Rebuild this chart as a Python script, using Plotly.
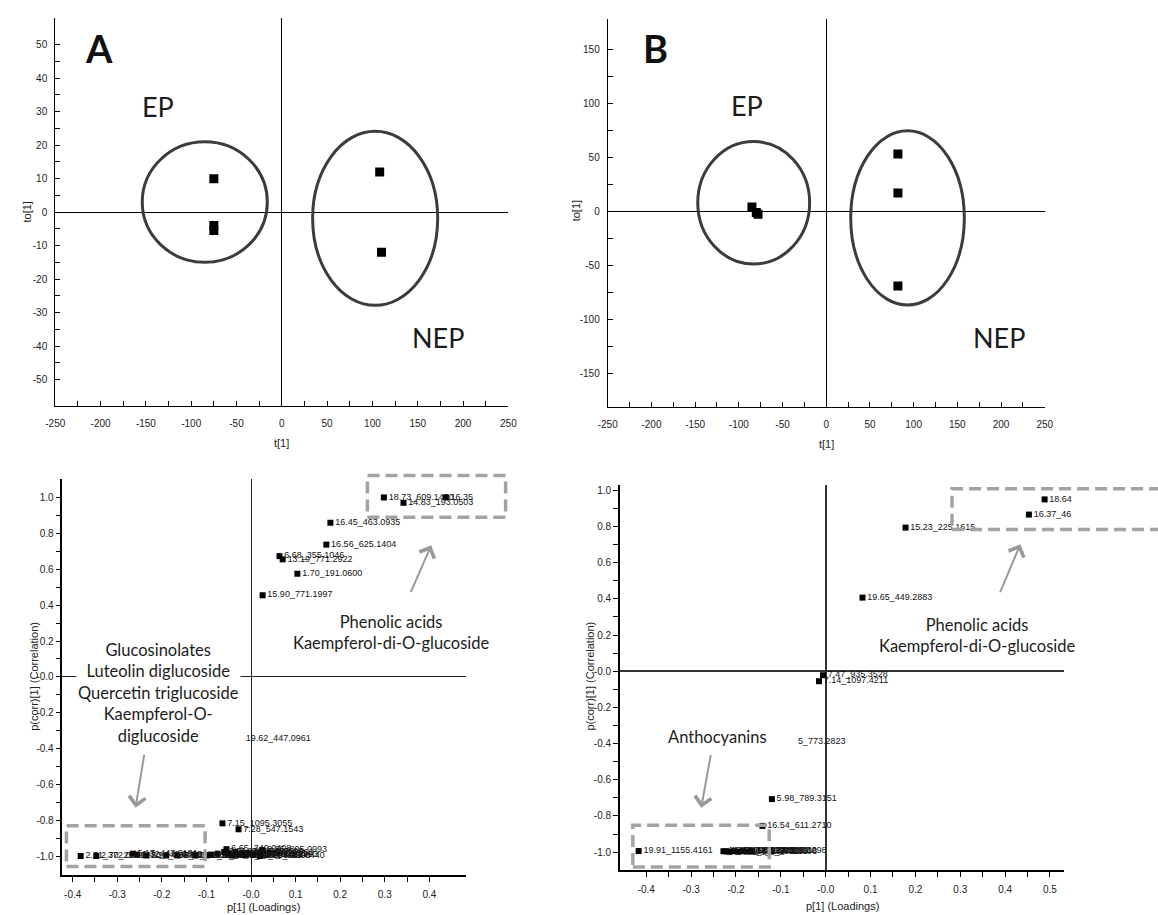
import plotly.graph_objects as go

W, H = 1158, 915

# ---------------- data ----------------
# Panel A: scores t[1] / to[1]
a_t = [-75, -75, -75, 108, 110]
a_to = [10.0, -4.0, -5.5, 12.0, -12.0]
# Panel B: scores t[1] / to[1]
b_t = [-85, -80, -78, 82, 82, 82]
b_to = [4.0, -1.0, -2.5, 53.0, 17.0, -69.0]

# group ellipses [EP, NEP]: centre and radii in data units
a_ell_cx = [-85, 103]
a_ell_cy = [3.0, -1.85]
a_ell_rx = [69, 69]
a_ell_ry = [18.0, 26.0]
b_ell_cx = [-83, 93]
b_ell_cy = [8.0, -6.0]
b_ell_rx = [64, 65]
b_ell_ry = [56.6, 80.5]

# Panel C: S-plot p[1] / p(corr)[1]
c_p = [0.298, 0.437, 0.342, 0.178, 0.169, 0.064, 0.071, 0.104, 0.026,
       -0.064, -0.028,
       -0.382, -0.347, -0.265, -0.255, -0.235, -0.19, -0.165, -0.125, -0.1,
       -0.09, -0.075, -0.06, -0.055, -0.05, -0.042, -0.035, -0.028, -0.02,
       -0.012, -0.005, 0.005, 0.025, 0.02]
c_pcorr = [1.0, 1.0, 0.97, 0.859, 0.737, 0.673, 0.655, 0.575, 0.455,
           -0.816, -0.849,
           -0.998, -0.998, -0.985, -0.99, -0.995, -0.995, -0.995, -0.995, -0.995,
           -0.99, -0.985, -0.975, -0.96, -0.985, -0.995, -0.975, -0.99, -0.985,
           -0.995, -0.98, -0.99, -0.965, -0.998]
c_lab = ["18.73_609.1420", "16.35", "14.83_193.0503", "16.45_463.0935",
         "16.56_625.1404", "6.68_355.1046", "13.19_771.2922", "1.70_191.0600",
         "15.90_771.1997", "7.15_1095.3055", "7.28_547.1543",
         "2.71_372.0982", "2.70_259.0220", "5.17_447.0181", "6.32_449.0803",
         "3.92_388.0805", "4.36_611.1612", "6.03_741.1884", "5.11_609.1450",
         "7.62_593.1508", "6.80_773.2134", "8.02_935.2303", "6.71_949.2457",
         "6.65_349.0408", "7.34_787.1929", "7.90_625.1410", "6.93_1111.3000",
         "7.44_979.2462", "8.27_817.1931", "8.51_593.1298", "9.02_963.2362",
         "9.33_801.1993", "8.86_805.0993", "9.70_449.0440"]
c_txt_p = [-0.012]
c_txt_pcorr = [-0.343]
c_txt_lab = ["19.62_447.0961"]

# Panel D: S-plot p[1] / p(corr)[1]
d_p = [0.488, 0.453, 0.178, 0.082, -0.006, -0.015, -0.12, -0.141, -0.417,
       -0.228, -0.222, -0.215, -0.205, -0.195, -0.185, -0.175, -0.165]
d_pcorr = [0.95, 0.866, 0.794, 0.407, -0.022, -0.055, -0.707, -0.855, -0.994,
           -0.995, -0.995, -0.998, -0.995, -0.998, -0.995, -0.997, -0.995]
d_lab = ["18.64", "16.37_46", "15.23_225.1615", "19.65_449.2883",
         "7.47_935.3528", "7.14_1097.4211", "5.98_789.3151", "16.54_611.2710",
         "19.91_1155.4161",
         "16.33_1125.3412", "16.90_963.2883", "17.21_801.3075", "15.85_1287.3933",
         "17.64_933.3268", "16.11_1093.3510", "18.02_771.3006", "17.49_1009.3298"]
d_txt_p = [-0.062]
d_txt_pcorr = [-0.39]
d_txt_lab = ["5_773.2823"]

# tick labels
score_x_ticks = [-250, -200, -150, -100, -50, 0, 50, 100, 150, 200, 250]
score_x_text = ["-250", "-200", "-150", "-100", "-50", "0", "50", "100", "150", "200", "250"]
a_y_ticks = [-50, -40, -30, -20, -10, 0, 10, 20, 30, 40, 50]
a_y_text = ["-50", "-40", "-30", "-20", "-10", "0", "10", "20", "30", "40", "50"]
b_y_ticks = [-150, -100, -50, 0, 50, 100, 150]
b_y_text = ["-150", "-100", "-50", "0", "50", "100", "150"]
c_x_ticks = [-0.4, -0.3, -0.2, -0.1, 0.0, 0.1, 0.2, 0.3, 0.4]
c_x_text = ["-0.4", "-0.3", "-0.2", "-0.1", "-0.0", "0.1", "0.2", "0.3", "0.4"]
d_x_ticks = [-0.4, -0.3, -0.2, -0.1, 0.0, 0.1, 0.2, 0.3, 0.4, 0.5]
d_x_text = ["-0.4", "-0.3", "-0.2", "-0.1", "-0.0", "0.1", "0.2", "0.3", "0.4", "0.5"]
corr_y_ticks = [-1.0, -0.8, -0.6, -0.4, -0.2, 0.0, 0.2, 0.4, 0.6, 0.8, 1.0]
corr_y_text = ["-1.0", "-0.8", "-0.6", "-0.4", "-0.2", "-0.0", "0.2", "0.4", "0.6", "0.8", "1.0"]

# ---------------- geometry (pixels) ----------------
panels = {
    "A": dict(px=(46, 506.7), py=(17, 405.7), xr=(-250, 250), yr=(-58, 58)),
    "B": dict(px=(607.7, 1052), py=(18.3, 406.7), xr=(-250, 250), yr=(-181, 177.6)),
    "C": dict(px=(53.3, 463.3), py=(478.3, 875), xr=(-0.423, 0.4815), yr=(-1.104, 1.104)),
    "D": dict(px=(620, 1071.7), py=(485, 870), xr=(-0.459, 0.5315), yr=(-1.099, 1.027)),
}


def dom_x(k):
    p = panels[k]["px"]
    return [p[0] / W, p[1] / W]


def dom_y(k):
    p = panels[k]["py"]
    return [1 - p[1] / H, 1 - p[0] / H]


def to_paper(k, x, y):
    p = panels[k]
    dx, dy = dom_x(k), dom_y(k)
    fx = (x - p["xr"][0]) / (p["xr"][1] - p["xr"][0])
    fy = (y - p["yr"][0]) / (p["yr"][1] - p["yr"][0])
    return dx[0] + fx * (dx[1] - dx[0]), dy[0] + fy * (dy[1] - dy[0])


def minors(vals):
    return [(vals[i] + vals[i + 1]) / 2 for i in range(len(vals) - 1)]


NARROW = "Liberation Sans Narrow, Arial Narrow, Liberation Sans, Arial"
TICKFONT = dict(family=NARROW, size=10, color="#222")
LABFONT = dict(family=NARROW, size=9, color="#111")
BIGFONT = "Lato, Open Sans, sans-serif"


def make_axis(k, axis, vals, text, minor_vals, ticks, anchor, lw, zlc, zlw, standoff):
    p = panels[k]
    return dict(
        domain=dom_x(k) if axis == "x" else dom_y(k),
        range=list(p["xr"] if axis == "x" else p["yr"]),
        anchor=anchor, tickmode="array", tickvals=vals, ticktext=text,
        ticks=ticks, ticklen=5, tickwidth=1, tickcolor="black",
        minor=dict(tickmode="array", tickvals=minor_vals, ticks=ticks, ticklen=5,
                   tickwidth=1, tickcolor="black", showgrid=False),
        showline=True, linecolor="black", linewidth=lw, mirror=False,
        showgrid=False, zeroline=True, zerolinecolor=zlc, zerolinewidth=zlw,
        tickfont=TICKFONT, fixedrange=True, ticklabelstandoff=standoff,
    )


fig = go.Figure()

fig.add_trace(go.Scatter(x=a_t, y=a_to, mode="markers", xaxis="x", yaxis="y",
                         marker=dict(symbol="square", size=9, color="black")))
fig.add_trace(go.Scatter(x=b_t, y=b_to, mode="markers", xaxis="x2", yaxis="y2",
                         marker=dict(symbol="square", size=9, color="black")))
fig.add_trace(go.Scatter(x=c_p, y=c_pcorr, text=c_lab, mode="markers+text", xaxis="x3", yaxis="y3",
                         textposition="middle right", textfont=LABFONT, cliponaxis=False,
                         marker=dict(symbol="square", size=6, color="black")))
fig.add_trace(go.Scatter(x=c_txt_p, y=c_txt_pcorr, text=c_txt_lab, mode="text", xaxis="x3", yaxis="y3",
                         textposition="middle right", textfont=LABFONT, cliponaxis=False))
fig.add_trace(go.Scatter(x=d_p, y=d_pcorr, text=d_lab, mode="markers+text", xaxis="x4", yaxis="y4",
                         textposition="middle right", textfont=LABFONT, cliponaxis=False,
                         marker=dict(symbol="square", size=6, color="black")))
fig.add_trace(go.Scatter(x=d_txt_p, y=d_txt_pcorr, text=d_txt_lab, mode="text", xaxis="x4", yaxis="y4",
                         textposition="middle right", textfont=LABFONT, cliponaxis=False))

shapes = []
for cx, cy, rx, ry in zip(a_ell_cx, a_ell_cy, a_ell_rx, a_ell_ry):
    shapes.append(dict(type="circle", xref="x", yref="y", x0=cx - rx, x1=cx + rx, y0=cy - ry, y1=cy + ry,
                       line=dict(color="#3c3c3c", width=3)))
for cx, cy, rx, ry in zip(b_ell_cx, b_ell_cy, b_ell_rx, b_ell_ry):
    shapes.append(dict(type="circle", xref="x2", yref="y2", x0=cx - rx, x1=cx + rx, y0=cy - ry, y1=cy + ry,
                       line=dict(color="#3c3c3c", width=3)))

# dashed highlight boxes (data units; may extend beyond axis range)
boxes = [("C", -0.414, -0.103, -1.057, -0.829), ("C", 0.261, 0.571, 0.890, 1.122),
         ("D", -0.43, -0.126, -1.082, -0.852), ("D", 0.2816, 0.75, 0.783, 1.009)]
for k, x0, x1, y0, y1 in boxes:
    px0, py0 = to_paper(k, x0, y0)
    px1, py1 = to_paper(k, x1, y1)
    shapes.append(dict(type="rect", xref="paper", yref="paper", x0=px0, x1=px1, y0=py0, y1=py1,
                       line=dict(color="#a3a3a3", width=3.5, dash="12px,6px"), layer="above"))

ann = []
TXT = "#1c1c1c"
ann.append(dict(text="<b>A</b>", x=-202, y=48.9, xref="x", yref="y", showarrow=False,
                font=dict(family=BIGFONT, size=38, color="#111")))
ann.append(dict(text="EP", x=-137, y=31.6, xref="x", yref="y", showarrow=False,
                font=dict(family=BIGFONT, size=27, color=TXT)))
ann.append(dict(text="NEP", x=172, y=-37.5, xref="x", yref="y", showarrow=False,
                font=dict(family=BIGFONT, size=27, color=TXT)))
ann.append(dict(text="<b>B</b>", x=-195.7, y=151.4, xref="x2", yref="y2", showarrow=False,
                font=dict(family=BIGFONT, size=38, color="#111")))
ann.append(dict(text="EP", x=-91, y=97.6, xref="x2", yref="y2", showarrow=False,
                font=dict(family=BIGFONT, size=27, color=TXT)))
ann.append(dict(text="NEP", x=198, y=-116.6, xref="x2", yref="y2", showarrow=False,
                font=dict(family=BIGFONT, size=27, color=TXT)))

ann.append(dict(text="Glucosinolates<br>Luteolin diglucoside<br>Quercetin triglucoside<br>Kaempferol-O-<br>diglucoside",
                x=-0.208, y=-0.092, xref="x3", yref="y3", showarrow=False, bgcolor="white",
                font=dict(family=BIGFONT, size=16.5, color=TXT)))
ann.append(dict(text="Phenolic acids<br>Kaempferol-di-O-glucoside", x=0.316, y=0.246, xref="x3", yref="y3",
                showarrow=False, font=dict(family=BIGFONT, size=16.5, color=TXT)))
ann.append(dict(text="Anthocyanins", x=-0.242, y=-0.366, xref="x4", yref="y4",
                showarrow=False, font=dict(family=BIGFONT, size=16.5, color=TXT)))
ann.append(dict(text="Phenolic acids<br>Kaempferol-di-O-glucoside", x=0.3377, y=0.198, xref="x4", yref="y4",
                showarrow=False, font=dict(family=BIGFONT, size=16.5, color=TXT)))

arrows = [("x3", "y3", 0.357, 0.464, 0.404, 0.733), ("x3", "y3", -0.239, -0.426, -0.259, -0.729),
          ("x4", "y4", 0.3875, 0.429, 0.434, 0.702), ("x4", "y4", -0.2557, -0.4547, -0.2776, -0.755)]
for xr, yr, tx, ty, hx, hy in arrows:
    ann.append(dict(text="", x=hx, y=hy, ax=tx, ay=ty, xref=xr, yref=yr, axref=xr, ayref=yr,
                    showarrow=True, arrowhead=4, arrowsize=1.6, arrowwidth=2, arrowcolor="#9a9a9a"))

# axis titles (placed as paper annotations)
TF = dict(family=NARROW, size=11, color="#222")
TF2 = dict(family="Liberation Sans, Arial", size=11, color="#222")
for txt, px, py, ang, f in [("to[1]", 17, 211, -90, TF), ("t[1]", 276, 442, 0, TF),
                            ("to[1]", 575, 210, -90, TF), ("t[1]", 830, 443, 0, TF),
                            ("p(corr)[1] (Correlation)", 25, 676, -90, TF2),
                            ("p[1] (Loadings)", 258, 907, 0, TF2),
                            ("p(corr)[1] (Correlation)", 590, 676, -90, TF2),
                            ("p[1] (Loadings)", 846, 906, 0, TF2)]:
    ann.append(dict(text=txt, x=px / W, y=1 - py / H, xref="paper", yref="paper", showarrow=False,
                    textangle=ang, font=f, xanchor="center", yanchor="middle"))

fig.update_layout(
    width=W, height=H, margin=dict(l=0, r=0, t=0, b=0),
    paper_bgcolor="white", plot_bgcolor="white", showlegend=False,
    xaxis=make_axis("A", "x", score_x_ticks, score_x_text, minors(score_x_ticks), "inside", "y", 1, "black", 1, 8),
    yaxis=make_axis("A", "y", a_y_ticks, a_y_text, minors(a_y_ticks), "inside", "x", 1, "black", 1, 5),
    xaxis2=make_axis("B", "x", score_x_ticks, score_x_text, minors(score_x_ticks), "inside", "y2", 1, "black", 1, 8),
    yaxis2=make_axis("B", "y", b_y_ticks, b_y_text, minors(b_y_ticks), "inside", "x2", 1, "black", 1, 5),
    xaxis3=make_axis("C", "x", c_x_ticks, c_x_text, minors(c_x_ticks), "outside", "y3", 1.5, "#222", 1.2, 4),
    yaxis3=make_axis("C", "y", corr_y_ticks, corr_y_text, minors(corr_y_ticks), "outside", "x3", 1.5, "#222", 1.2, 0),
    xaxis4=make_axis("D", "x", d_x_ticks, d_x_text, minors(d_x_ticks), "outside", "y4", 1.5, "#333", 1.6, 4),
    yaxis4=make_axis("D", "y", corr_y_ticks, corr_y_text, minors(corr_y_ticks), "outside", "x4", 1.5, "#333", 1.6, 0),
    shapes=shapes, annotations=ann,
)

fig.write_html("out.html")
